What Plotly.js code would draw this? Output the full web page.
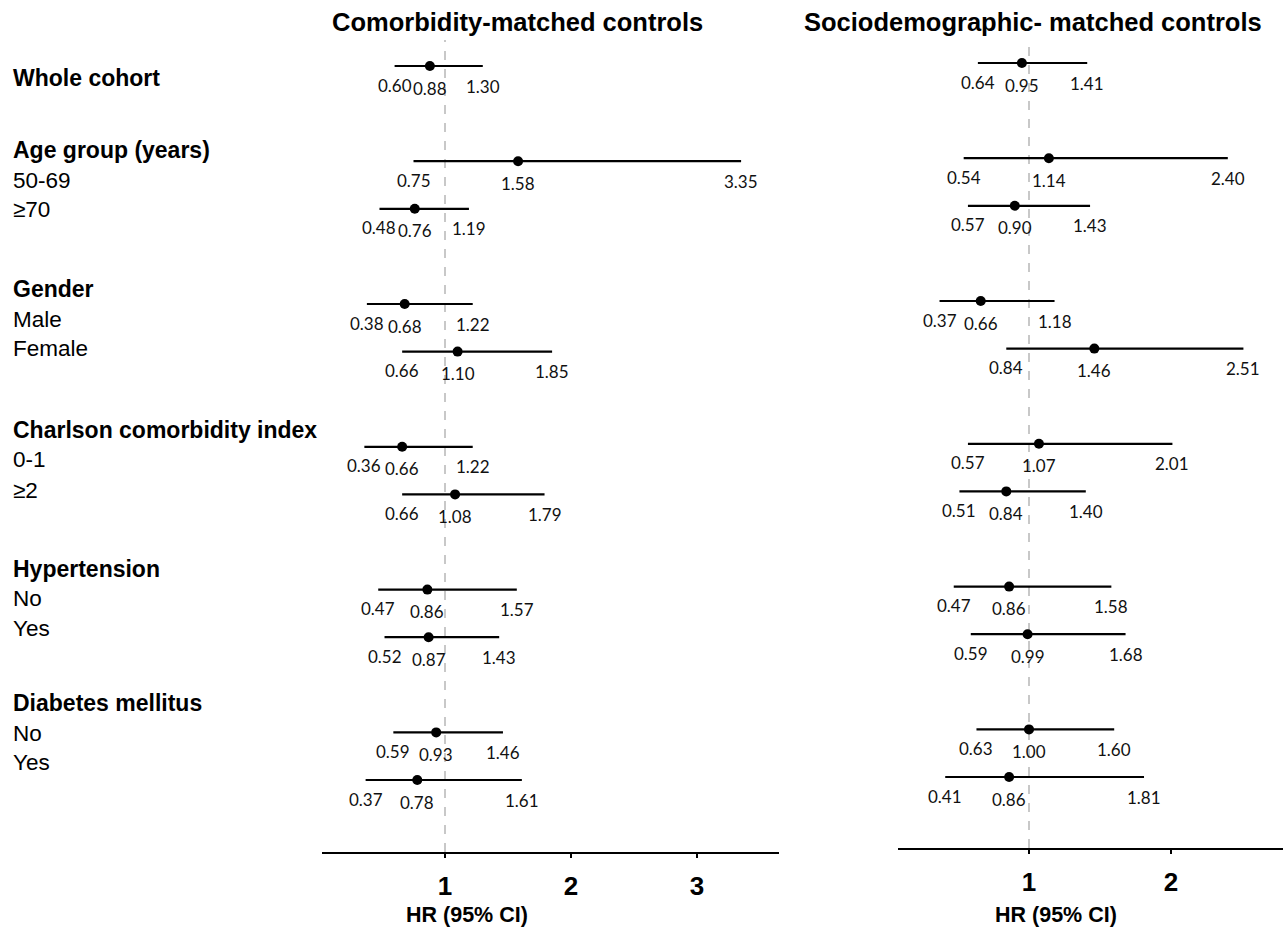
<!DOCTYPE html>
<html>
<head>
<meta charset="utf-8">
<script src="https://cdn.plot.ly/plotly-3.0.1.min.js"></script>
<style>html,body{margin:0;padding:0;background:#fff;}#chart{width:1286px;height:928px;}</style>
</head>
<body>
<div id="chart"></div>
<script>
// ---- Data ----
const subgroups = ["Whole cohort", "Age 50-69", "Age ≥70", "Male", "Female", "CCI 0-1", "CCI ≥2",
                   "Hypertension No", "Hypertension Yes", "Diabetes No", "Diabetes Yes"];
const groupIndex = [0, 1, 1, 2, 2, 3, 3, 4, 4, 5, 5];

const comorbHR = [0.88, 1.58, 0.76, 0.68, 1.10, 0.66, 1.08, 0.86, 0.87, 0.93, 0.78];
const comorbLo = [0.60, 0.75, 0.48, 0.38, 0.66, 0.36, 0.66, 0.47, 0.52, 0.59, 0.37];
const comorbHi = [1.30, 3.35, 1.19, 1.22, 1.85, 1.22, 1.79, 1.57, 1.43, 1.46, 1.61];

const socioHR = [0.95, 1.14, 0.90, 0.66, 1.46, 1.07, 0.84, 0.86, 0.99, 1.00, 0.86];
const socioLo = [0.64, 0.54, 0.57, 0.37, 0.84, 0.57, 0.51, 0.47, 0.59, 0.63, 0.41];
const socioHi = [1.41, 2.40, 1.43, 1.18, 2.51, 2.01, 1.40, 1.58, 1.68, 1.60, 1.81];

const leftTicks = [1, 2, 3];
const rightTicks = [1, 2];

const headerLabels = ["Whole cohort", "Age group (years)", "Gender", "Charlson comorbidity index", "Hypertension", "Diabetes mellitus"];
const subLabels = ["50-69", "≥70", "Male", "Female", "0-1", "≥2", "No", "Yes", "No", "Yes"];

const panelTitles = ["Comorbidity-matched controls", "Sociodemographic- matched controls"];
const axisTitle = "HR (95% CI)";

// ---- Layout helpers ----
const W = 1286, H = 928;
const px = v => v / W;
const py = v => 1 - v / H;
const rowPos = subgroups.map((_, i) => i + groupIndex[i]);

const ARIAL = "Arial";
const NUMFONT = "Lato";

function forestTrace(hr, lo, hi, xa, ya) {
  return {
    type: "scatter", mode: "markers",
    x: hr, y: rowPos, xaxis: xa, yaxis: ya,
    marker: { color: "#000", size: 10 },
    error_x: {
      type: "data", symmetric: false,
      array: hr.map((v, i) => hi[i] - v),
      arrayminus: hr.map((v, i) => v - lo[i]),
      width: 0, thickness: 2.2, color: "#000"
    },
    hoverinfo: "x+y", showlegend: false
  };
}

const data = [
  forestTrace(comorbHR, comorbLo, comorbHi, "x", "y"),
  forestTrace(socioHR, socioLo, socioHi, "x2", "y2")
];

const annotations = [];
function numLabels(hr, lo, hi, xref, yref) {
  hr.forEach((v, i) => {
    const y = rowPos[i];
    [[lo[i], -19], [v, -22], [hi[i], -20]].forEach(([val, sh]) => {
      annotations.push({
        x: val, y: y, xref: xref, yref: yref, text: val.toFixed(2),
        showarrow: false, yshift: sh, xanchor: "center", yanchor: "middle",
        font: { family: NUMFONT, size: 17, color: "#111" }
      });
    });
  });
}
numLabels(comorbHR, comorbLo, comorbHi, "x", "y");
numLabels(socioHR, socioLo, socioHi, "x2", "y2");

// Left column labels
const headerY = [78, 150, 289, 430, 569, 703];
headerLabels.forEach((t, i) => annotations.push({
  x: px(11), y: py(headerY[i]), xref: "paper", yref: "paper", text: "<b>" + t + "</b>",
  showarrow: false, xanchor: "left", yanchor: "middle",
  font: { family: ARIAL, size: 23, color: "#000" }
}));
const subY = [180, 210, 319, 348, 459, 490, 598, 628, 733, 762];
subLabels.forEach((t, i) => annotations.push({
  x: px(11), y: py(subY[i]), xref: "paper", yref: "paper", text: t,
  showarrow: false, xanchor: "left", yanchor: "middle",
  font: { family: ARIAL, size: 22.5, color: "#000" }
}));

// Panel titles
[[517, panelTitles[0]], [1033, panelTitles[1]]].forEach(([x, t]) => annotations.push({
  x: px(x), y: py(22), xref: "paper", yref: "paper", text: "<b>" + t + "</b>",
  showarrow: false, xanchor: "center", yanchor: "middle",
  font: { family: ARIAL, size: 25.5, color: "#000" }
}));
// Axis titles
[[467, axisTitle], [1056, axisTitle]].forEach(([x, t]) => annotations.push({
  x: px(x), y: py(915), xref: "paper", yref: "paper", text: "<b>" + t + "</b>",
  showarrow: false, xanchor: "center", yanchor: "middle",
  font: { family: ARIAL, size: 21.5, color: "#000" }
}));

const shapes = [
  { type: "line", xref: "x", yref: "y domain", x0: 1, x1: 1, y0: 0, y1: (852 - 40) / 852,
    line: { color: "#c8c8c8", width: 2, dash: "dash" }, layer: "below" },
  { type: "line", xref: "x2", yref: "y2 domain", x0: 1, x1: 1, y0: 0, y1: (848 - 40) / 848,
    line: { color: "#c8c8c8", width: 2, dash: "dash" }, layer: "below" }
];

function xAxis(domain, range, ticks, anchor) {
  return {
    domain: domain, range: range, anchor: anchor,
    showgrid: false, zeroline: false,
    showline: true, linecolor: "#000", linewidth: 2,
    ticks: "outside", ticklen: 4, tickwidth: 2, tickcolor: "#000",
    tickvals: ticks, ticktext: ticks.map(String),
    tickfont: { family: ARIAL, size: 26, color: "#000", weight: "bold" },
    ticklabelstandoff: 6,
    fixedrange: true
  };
}

const layout = {
  width: W, height: H,
  margin: { l: 0, r: 0, t: 0, b: 0 },
  paper_bgcolor: "#fff", plot_bgcolor: "rgba(0,0,0,0)",
  showlegend: false,
  xaxis: xAxis([px(322), px(779)], [1 - (445 - 322) / 126, 1 + (779 - 445) / 126], leftTicks, "y"),
  xaxis2: xAxis([px(898), px(1283)], [1 - (1029 - 898) / 142, 1 + (1283 - 1029) / 142], rightTicks, "y2"),
  yaxis: {
    domain: [py(852), 1], range: [(852 - 66) / 47.6, -66 / 47.6],
    visible: false, fixedrange: true, anchor: "x"
  },
  yaxis2: {
    domain: [py(848), 1], range: [(848 - 63) / 47.6, -63 / 47.6],
    visible: false, fixedrange: true, anchor: "x2"
  },
  annotations: annotations,
  shapes: shapes,
  font: { family: ARIAL }
};

Plotly.newPlot("chart", data, layout, { displayModeBar: false, staticPlot: true });
</script>
</body>
</html>
